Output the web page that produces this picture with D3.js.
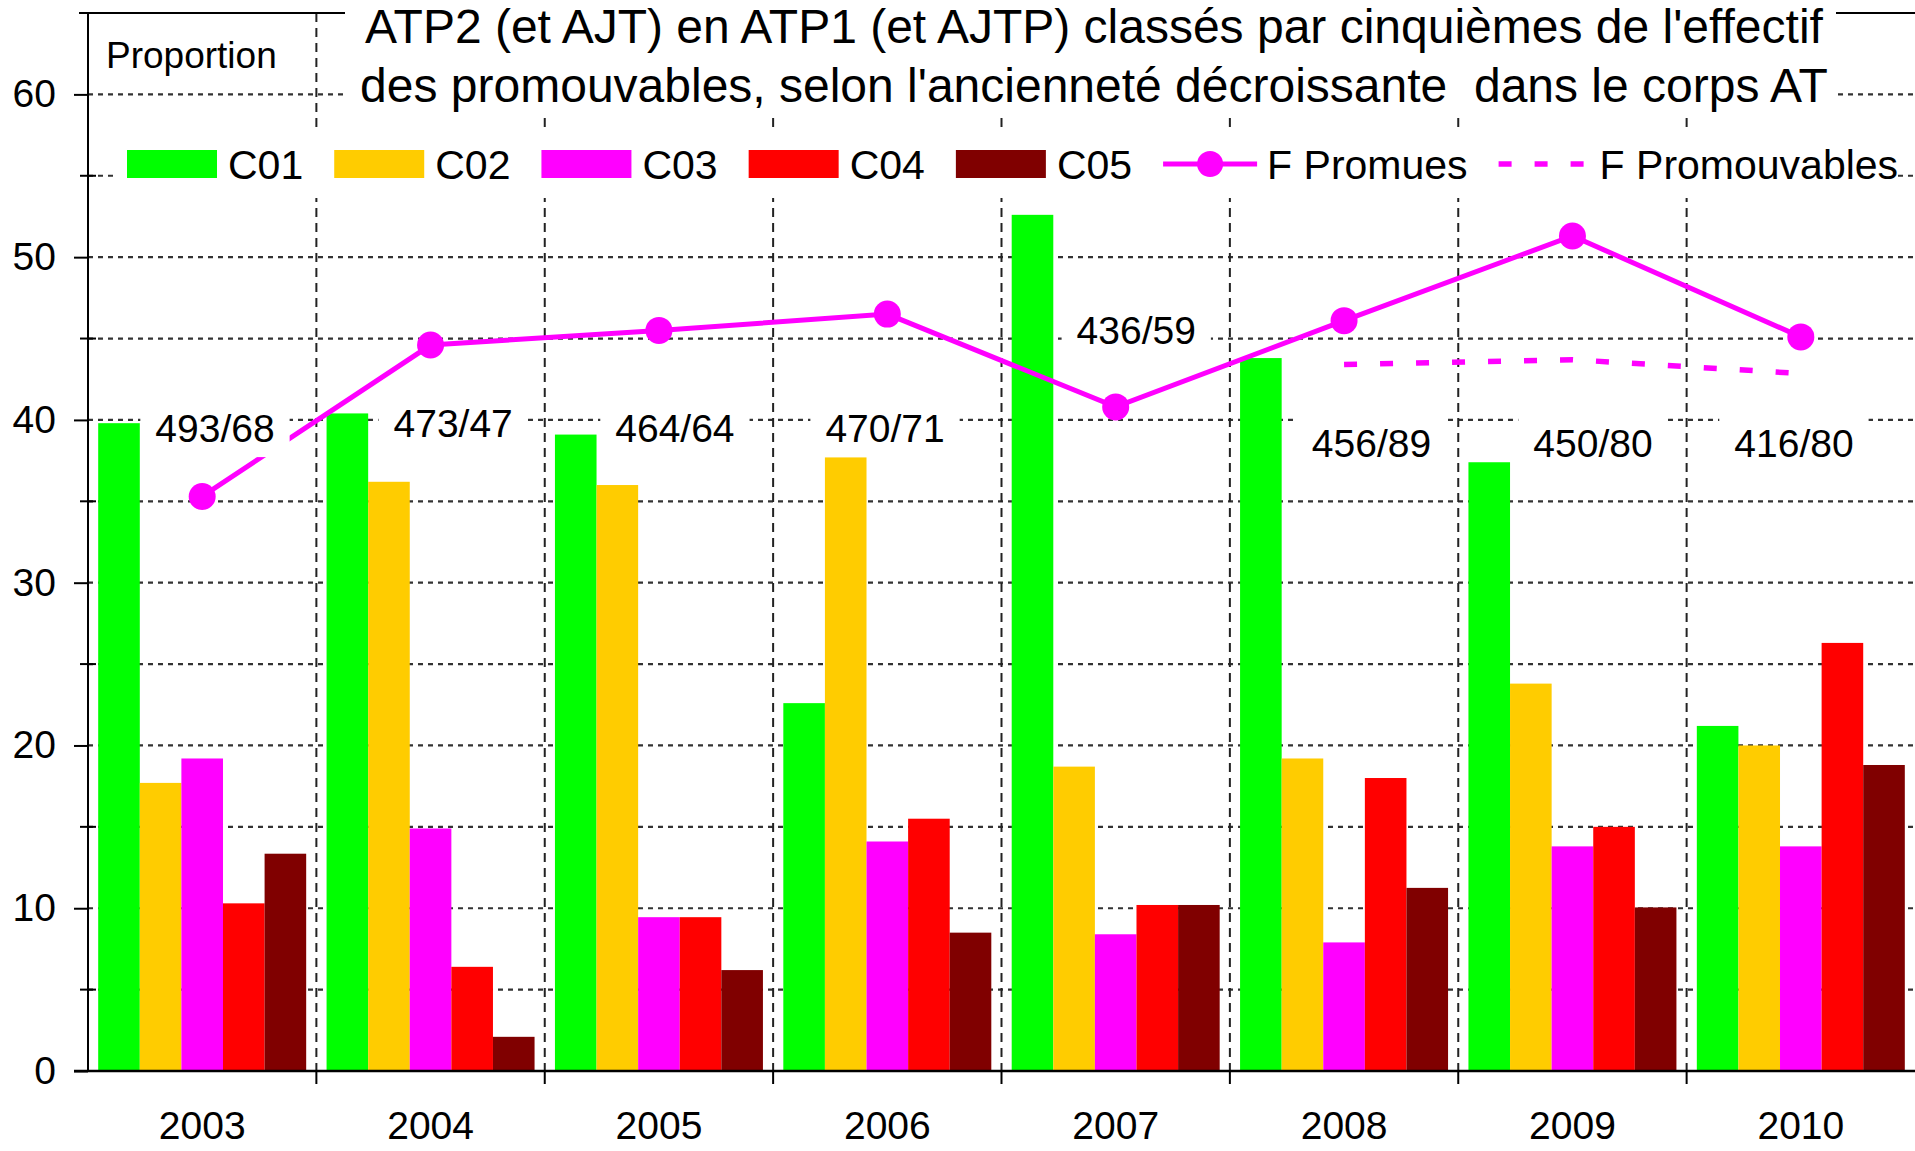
<!DOCTYPE html>
<html><head><meta charset="utf-8">
<script src="https://cdn.jsdelivr.net/npm/d3@7"></script>
<style>html,body{margin:0;padding:0;background:#fff;overflow:hidden}svg{display:block}text{font-family:"Liberation Sans",Arial,sans-serif;fill:#000}</style>
</head><body><svg id="c" width="1915" height="1151"></svg>
<script>
const years = ["2003","2004","2005","2006","2007","2008","2009","2010"];
const seriesNames = ["C01","C02","C03","C04","C05"];
const c01 = [39.8, 40.4, 39.1, 22.6, 52.6, 43.8, 37.4, 21.2];
const c02 = [17.7, 36.2, 36.0, 37.7, 18.7, 19.2, 23.8, 20.0];
const c03 = [19.2, 14.9, 9.45, 14.1, 8.4, 7.9, 13.8, 13.8];
const c04 = [10.3, 6.4, 9.45, 15.5, 10.2, 18.0, 15.0, 26.3];
const c05 = [13.35, 2.1, 6.2, 8.5, 10.2, 11.25, 10.05, 18.8];
const fPromues = [35.3, 44.6, 45.5, 46.5, 40.8, 46.1, 51.3, 45.1];
const fPromouvables = [null, null, null, null, null, 43.4, 43.7, 42.85];
const countLabels = ["493/68","473/47","464/64","470/71","436/59","456/89","450/80","416/80"];
const yTickValues = [0,10,20,30,40,50,60];
const titleLines = ["ATP2 (et AJT) en ATP1 (et AJTP) classés par cinquièmes de l'effectif",
                    "des promouvables, selon l'ancienneté décroissante  dans le corps AT"];
const yAxisTitle = "Proportion";
const lineNames = ["F Promues","F Promouvables"];

// annotation anchors (data-space): y value and offset as fraction of band
const countLabelY = [39.5, 39.8, 39.5, 39.5, 45.5, 38.6, 38.6, 38.6];
const countLabelDx = [0.056, 0.099, 0.07, -0.01, 0.09, 0.12, 0.09, -0.03];

const colors = ["#00ff00","#ffcc00","#ff00ff","#ff0000","#800000"];
const lineColor = "#ff00ff";
const seriesValues = [c01,c02,c03,c04,c05];

const svg = d3.select("#c");
const L = 88, R = 1915, B = 1071, T = 13;
const x0 = d3.scaleBand().domain(years).range([L, R]).padding(0);
const x1 = d3.scaleBand().domain(seriesNames).range([0, x0.bandwidth()]).paddingInner(0).paddingOuter(0.245);
const y = d3.scaleLinear().domain([0, 65]).range([B, T]);

// horizontal gridlines every 5
const gridVals = d3.range(5, 65, 5);
svg.append("g").selectAll("line").data(gridVals).join("line")
  .attr("x1", L).attr("x2", R).attr("y1", d=>y(d)).attr("y2", d=>y(d))
  .attr("stroke","#333").attr("stroke-width",2.2).attr("stroke-dasharray","5,5");
// vertical gridlines at boundaries
const bounds = years.slice(1).map(d=>x0(d));
svg.append("g").selectAll("line").data(bounds).join("line")
  .attr("x1", d=>d).attr("x2", d=>d).attr("y1", T).attr("y2", B)
  .attr("stroke","#222").attr("stroke-width",2).attr("stroke-dasharray","9,6");

// bars
const gBars = svg.append("g");
seriesNames.forEach((s, si) => {
  gBars.append("g").selectAll("rect").data(years).join("rect")
    .attr("x", d => x0(d) + x1(s))
    .attr("width", x1.bandwidth())
    .attr("y", (d,i) => y(seriesValues[si][i]))
    .attr("height", (d,i) => B - y(seriesValues[si][i]))
    .attr("fill", colors[si]);
});

const cx = d => x0(d) + x0.bandwidth()/2;
// F Promues line
const lineGen = d3.line().defined(d=>d[1]!=null).x(d=>cx(d[0])).y(d=>y(d[1]));
svg.append("path").datum(years.map((d,i)=>[d,fPromues[i]]))
  .attr("d", lineGen).attr("fill","none").attr("stroke",lineColor).attr("stroke-width",5);
svg.append("g").selectAll("circle").data(years).join("circle")
  .attr("cx", d=>cx(d)).attr("cy",(d,i)=>y(fPromues[i])).attr("r",13.5).attr("fill",lineColor);
// F Promouvables dashed
svg.append("path").datum(years.map((d,i)=>[d,fPromouvables[i]]))
  .attr("d", lineGen).attr("fill","none").attr("stroke",lineColor).attr("stroke-width",5.5)
  .attr("stroke-dasharray","13,23");

// count labels with white background
const gLab = svg.append("g");
years.forEach((yr,i)=>{
  const g = gLab.append("g");
  const t = g.append("text").attr("x", cx(yr) + countLabelDx[i]*x0.bandwidth())
    .attr("y", y(countLabelY[i])).attr("dy","0.36em")
    .attr("text-anchor","middle").style("font-size","39px").text(countLabels[i]);
  const bb = t.node().getBBox();
  g.insert("rect","text").attr("x",bb.x-15).attr("y",bb.y-7).attr("width",bb.width+30).attr("height",bb.height+14).attr("fill","#fff");
});

// top frame line
svg.append("line").attr("x1",79).attr("x2",R).attr("y1",T).attr("y2",T).attr("stroke","#000").attr("stroke-width",2);

// title with background
const gT = svg.append("g");
gT.append("rect").attr("x",345).attr("y",0).attr("width",1836-345).attr("height",112).attr("fill","#fff");
gT.selectAll("text").data(titleLines).join("text")
  .attr("x",1094).attr("y",(d,i)=>43+i*59).attr("text-anchor","middle")
  .style("font-size","48px").style("white-space","pre").attr("xml:space","preserve").text(d=>d);

// Proportion label
svg.append("text").attr("x",106).attr("y",68).style("font-size","37px").text(yAxisTitle);

// legend
const gL = svg.append("g");
gL.append("rect").attr("x",115).attr("y",130).attr("width",1895-115).attr("height",68).attr("fill","#fff");
let lx = 127; const ly = 164;
seriesNames.forEach((s,si)=>{
  gL.append("rect").attr("x",lx).attr("y",ly-14).attr("width",90).attr("height",28).attr("fill",colors[si]);
  const t = gL.append("text").attr("x",lx+101).attr("y",ly).attr("dy","0.36em").style("font-size","41px").text(s);
  lx = lx + 101 + t.node().getComputedTextLength() + 31;
});
gL.append("line").attr("x1",lx).attr("x2",lx+94).attr("y1",ly).attr("y2",ly).attr("stroke",lineColor).attr("stroke-width",5);
gL.append("circle").attr("cx",lx+47).attr("cy",ly).attr("r",13).attr("fill",lineColor);
let t2 = gL.append("text").attr("x",lx+104).attr("y",ly).attr("dy","0.36em").style("font-size","41px").text(lineNames[0]);
lx = lx + 104 + t2.node().getComputedTextLength() + 31;
gL.append("line").attr("x1",lx).attr("x2",lx+85).attr("y1",ly).attr("y2",ly).attr("stroke",lineColor).attr("stroke-width",5.5).attr("stroke-dasharray","13,23");
gL.append("text").attr("x",lx+101).attr("y",ly).attr("dy","0.36em").style("font-size","41px").text(lineNames[1]);

// axes
const yAxis = d3.axisLeft(y).tickValues(yTickValues).tickSize(14).tickPadding(18).tickFormat(d3.format("d"));
const gy = svg.append("g").attr("transform",`translate(${L},0)`).call(yAxis);
gy.select(".domain").attr("d",`M0,${T}V${B}`).attr("stroke","#000").attr("stroke-width",2);
gy.selectAll(".tick line").attr("stroke","#000").attr("stroke-width",2);
gy.selectAll(".tick text").style("font-size","39px").attr("font-family",null);
// minor ticks
svg.append("g").selectAll("line").data(d3.range(5,65,10)).join("line")
  .attr("x1",L-8).attr("x2",L+8).attr("y1",d=>y(d)).attr("y2",d=>y(d)).attr("stroke","#000").attr("stroke-width",2);

const xAxis = d3.axisBottom(x0).tickSize(0).tickPadding(40);
const gx = svg.append("g").attr("transform",`translate(0,${B})`).call(xAxis);
gx.select(".domain").attr("d",`M${L-14},0H${R}`).attr("stroke","#000").attr("stroke-width",2.5);
gx.selectAll(".tick text").style("font-size","39px").attr("font-family",null);
svg.append("g").selectAll("line").data(bounds).join("line")
  .attr("x1",d=>d).attr("x2",d=>d).attr("y1",B).attr("y2",B+13).attr("stroke","#000").attr("stroke-width",2);
</script></body></html>
